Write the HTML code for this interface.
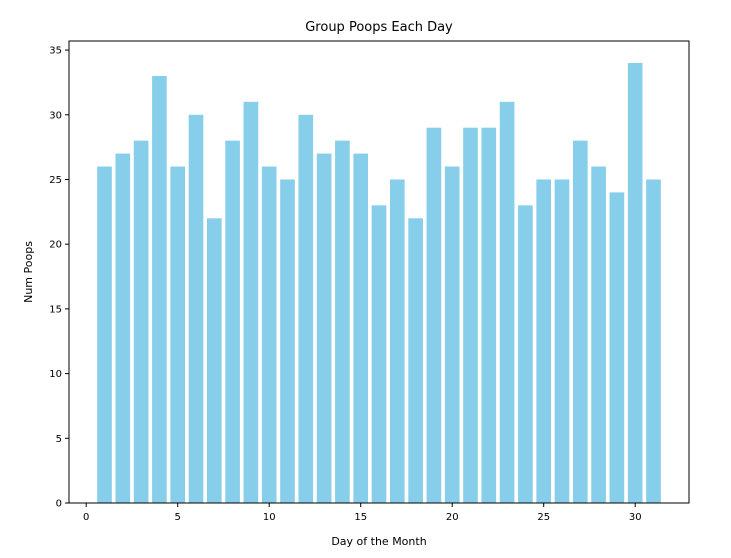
<!DOCTYPE html>
<html><head><meta charset="utf-8"><style>
body{margin:0;background:#fff;font-family:"Liberation Sans","DejaVu Sans",sans-serif;}
svg text{font-family:"DejaVu Sans","Liberation Sans",sans-serif;}
</style></head><body>
<svg id="chart" width="731" height="553" xmlns="http://www.w3.org/2000/svg">
<rect width="731" height="553" fill="#fff"/>
<text x="379" y="31" font-size="13" text-anchor="middle">Group Poops Each Day</text>
<text x="379" y="545" font-size="11" text-anchor="middle">Day of the Month</text>
<text transform="translate(32,272) rotate(-90)" font-size="11" text-anchor="middle">Num Poops</text>
<g id="bars"></g><g id="axes"></g>
</svg>
<script>
const days = [1,2,3,4,5,6,7,8,9,10,11,12,13,14,15,16,17,18,19,20,21,22,23,24,25,26,27,28,29,30,31];
const poops = [26,27,28,33,26,30,22,28,31,26,25,30,27,28,27,23,25,22,29,26,29,29,31,23,25,25,28,26,24,34,25];
const xTicks = [0,5,10,15,20,25,30];
const yTicks = [0,5,10,15,20,25,30,35];
const L=69,R=689,T=41,B=503,xmin=-0.94,xmax=32.94,ymin=0,ymax=35.7;
const ns="http://www.w3.org/2000/svg";
const sx=v=>L+(v-xmin)/(xmax-xmin)*(R-L);
const sy=v=>B-(v-ymin)/(ymax-ymin)*(B-T);
const bars=document.getElementById('bars'),axes=document.getElementById('axes');
function mk(tag,attrs,parent){const e=document.createElementNS(ns,tag);for(const k in attrs)e.setAttribute(k,attrs[k]);parent.appendChild(e);return e;}
days.forEach((d,i)=>{
  const r=mk('rect',{x:sx(d-0.4),y:sy(poops[i]),width:sx(d+0.4)-sx(d-0.4),height:sy(0)-sy(poops[i]),fill:'#87ceeb'},bars);
  
  
});
const frame=mk('rect',{x:L,y:T,width:R-L,height:B-T,fill:'none',stroke:'#000','stroke-width':1},axes);


xTicks.forEach(t=>{
  const x=sx(t);
  mk('line',{x1:x,x2:x,y1:B,y2:B+4,stroke:'#000'},axes);
  const tx=mk('text',{x:x,y:B+17,'font-size':10,'text-anchor':'middle'},axes);
  tx.textContent=t;
  
  
});
yTicks.forEach(t=>{
  const y=sy(t);
  mk('line',{x1:L-4,x2:L,y1:y,y2:y,stroke:'#000'},axes);
  const tx=mk('text',{x:L-7,y:y+3.5,'font-size':10,'text-anchor':'end'},axes);
  tx.textContent=t;
  
  
});
</script>
</body></html>
